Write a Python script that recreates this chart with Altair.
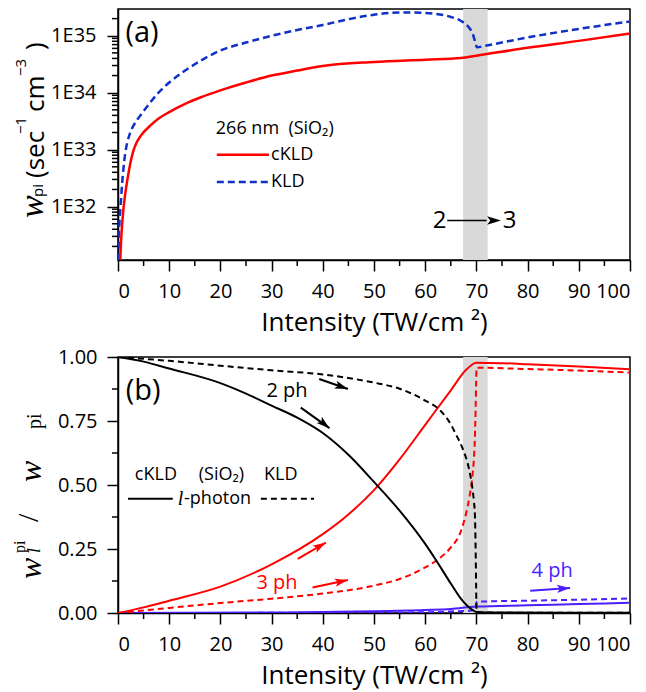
import altair as alt
import pandas as pd

# ------------------------------------------------------------------ data
x_major = [0, 10, 20, 30, 40, 50, 60, 70, 80, 90, 100]
x_minor = [5, 15, 25, 35, 45, 55, 65, 75, 85, 95]
top_y_major = [1e32, 1e33, 1e34, 1e35]
top_y_minor = [2e31, 3e31, 4e31, 5e31, 6e31, 7e31, 8e31, 9e31,
               2e32, 3e32, 4e32, 5e32, 6e32, 7e32, 8e32, 9e32,
               2e33, 3e33, 4e33, 5e33, 6e33, 7e33, 8e33, 9e33,
               2e34, 3e34, 4e34, 5e34, 6e34, 7e34, 8e34, 9e34,
               2e35]
bot_y_major = [0, 0.25, 0.5, 0.75, 1.0]
bot_y_minor = [0.125, 0.375, 0.625, 0.875]
top_domain = [1.155e31, 2.95e35]
band_x = [67.4]
band_x2 = [72.2]

# panel (a): total photo-ionization rate
a_ckld_x = [0.45, 0.55, 0.7, 1.0, 1.3, 1.6, 2.0, 2.5, 3.0, 3.5, 4.5, 6.4, 8, 10, 13, 16.2, 20, 25, 30,
            35, 40, 50, 60, 67, 70, 80, 90, 100]
a_ckld_y = [1.16e31, 2.0e31, 3.55e31, 7.94e31, 1.41e32, 2.19e32, 3.63e32, 6.31e32, 9.55e32, 1.26e33,
            1.78e33, 2.69e33, 3.55e33, 4.57e33, 6.31e33, 8.32e33, 1.1e34, 1.51e34, 2.0e34, 2.45e34,
            2.95e34, 3.47e34, 3.8e34, 4.07e34, 4.47e34, 6.17e34, 8.13e34, 1.1e35]
a_kld_x = [0.05, 0.15, 0.3, 0.5, 0.8, 1.1, 1.4, 1.8, 2.4, 3.2, 4.2, 5.2, 6.4, 7.7, 10, 12.5, 15, 17.5,
           20, 25, 30, 35, 40, 45, 50, 55, 60, 65, 67, 68.3, 69.3, 69.8, 70.1, 72, 80, 90, 100]
a_kld_y = [1.16e31, 2.51e31, 5.62e31, 1.0e32, 2.51e32, 5.01e32, 8.51e32, 1.32e33, 2.0e33, 2.82e33,
           3.8e33, 5.01e33, 6.92e33, 9.55e33, 1.51e34, 2.24e34, 3.16e34, 4.27e34, 5.5e34, 7.59e34,
           1.0e35, 1.26e35, 1.55e35, 1.95e35, 2.34e35, 2.57e35, 2.51e35, 2.14e35, 1.82e35, 1.48e35,
           1.07e35, 7.59e34, 6.31e34, 6.76e34, 9.33e34, 1.32e35, 1.78e35]

# panel (b): l-photon fractions
b2_ckld_x = [0, 5, 10, 20, 25, 30, 35, 40, 45, 50, 55, 60, 62, 65, 67, 69, 70, 72, 100]
b2_ckld_y = [1.0, 0.982, 0.955, 0.898, 0.857, 0.81, 0.763, 0.703, 0.618, 0.512, 0.40, 0.27, 0.21, 0.115,
             0.055, 0.015, 0.004, 0.002, 0.001]
b3_ckld_x = [0, 5, 10, 20, 30, 40, 45, 50, 55, 60, 65, 68, 70, 75, 80, 90, 100]
b3_ckld_y = [0, 0.022, 0.048, 0.103, 0.19, 0.308, 0.385, 0.48, 0.60, 0.735, 0.87, 0.95, 0.978, 0.976,
             0.972, 0.963, 0.952]
b4_ckld_x = [0, 30, 40, 50, 60, 65, 70, 80, 90, 100]
b4_ckld_y = [0, 0.002, 0.004, 0.007, 0.012, 0.016, 0.025, 0.03, 0.035, 0.04]
b2_kld_x = [0, 10, 20, 30, 40, 45, 50, 55, 60, 63, 65, 66, 67.5, 68.5, 69, 69.5, 69.7, 69.85, 69.95,
            70.02, 70.1, 80, 100]
b2_kld_y = [1.0, 0.985, 0.966, 0.948, 0.932, 0.918, 0.90, 0.876, 0.83, 0.79, 0.737, 0.698, 0.633, 0.568,
            0.516, 0.438, 0.387, 0.25, 0.10, 0.01, 0.002, 0.001, 0.001]
b3_kld_x = [0, 10, 20, 30, 40, 50, 55, 60, 63, 65, 67, 68, 68.7, 69.2, 69.5, 69.7, 69.85, 69.95, 70.02,
            80, 90, 100]
b3_kld_y = [0, 0.02, 0.039, 0.056, 0.076, 0.107, 0.133, 0.178, 0.217, 0.256, 0.321, 0.39, 0.46, 0.53,
            0.60, 0.68, 0.80, 0.90, 0.958, 0.953, 0.947, 0.939]
b4_kld_x = [0, 40, 60, 65, 69, 69.9, 70.05, 80, 90, 100]
b4_kld_y = [0, 0.001, 0.003, 0.006, 0.01, 0.015, 0.044, 0.048, 0.052, 0.057]

# annotation arrows of panel (b): start, tip, head angle
arr_x0 = [35.7, 39.3, 35.1, 38.0, 80.5]
arr_y0 = [0.802, 0.914, 0.211, 0.100, 0.087]
arr_x1 = [41.3, 44.9, 40.6, 44.9, 88.3]
arr_y1 = [0.722, 0.875, 0.275, 0.129, 0.098]
arr_angle = [129, 109, 60, 78, 86]
arr_color = ["black", "black", "#ff0000", "#ff0000", "#4b1fff"]

RED = "#ff0000"
BLUE = "#1030c8"
VIOLET = "#4b1fff"
SANS = "Open Sans"
SERIF = "Liberation Serif"
TOP_H = 251
BOT_H = 256

# ------------------------------------------------------------------ encodings
x_axis = alt.Axis(values=x_major, tickSize=11, labelPadding=10,
                  title="Intensity (TW/cm ²)", titlePadding=8)
X = alt.X("x:Q", scale=alt.Scale(domain=[0, 100], nice=False, zero=False), axis=x_axis)
X2 = alt.X2("x2:Q")

top_y_axis = alt.Axis(values=top_y_major, labelExpr="'1E' + round(log(datum.value)/LN10)",
                      tickSize=11, labelPadding=11, title=None)
YT = alt.Y("y:Q", scale=alt.Scale(type="log", domain=top_domain, nice=False), axis=top_y_axis)

bot_y_axis = alt.Axis(values=bot_y_major, format=".2f", tickSize=11, labelPadding=10, title=None)
YB = alt.Y("y:Q", scale=alt.Scale(domain=[0, 1], nice=False, zero=False), axis=bot_y_axis)


def line(xs, ys, Y, color, dash=None, width=2.5):
    kw = dict(color=color, strokeWidth=width, interpolate="monotone", clip=True)
    if dash:
        kw["strokeDash"] = dash
    return alt.Chart(pd.DataFrame({"x": xs, "y": ys})).mark_line(**kw).encode(x=X, y=Y)


def seg(x0, x1, y, Y, color, dash=None, width=2.5):
    kw = dict(color=color, strokeWidth=width)
    if dash:
        kw["strokeDash"] = dash
    return alt.Chart(pd.DataFrame({"x": [x0], "x2": [x1], "y": [y]})).mark_rule(**kw).encode(
        x=X, x2=X2, y=Y)


def txt(x, y, s, Y, size=18, color="black", font=SANS, align="center", style="normal"):
    return alt.Chart(pd.DataFrame({"x": [x], "y": [y], "t": [s]})).mark_text(
        font=font, fontSize=size, color=color, align=align, baseline="middle", fontStyle=style
    ).encode(x=X, y=Y, text="t:N")


def ptxt(px, py, s, size, font=SANS, style="normal"):
    return alt.Chart(pd.DataFrame({"t": [s]})).mark_text(
        font=font, fontSize=size, fontStyle=style, color="black", angle=270,
        align="left", baseline="alphabetic", x=px, y=py
    ).encode(text="t:N")


def x_minor_ticks(h):
    return alt.Chart(pd.DataFrame({"x": x_minor})).mark_rule(color="black", strokeWidth=1.5).encode(
        x=X, y=alt.value(h), y2=alt.value(h + 6))


def y_minor_ticks(vals, Y):
    return alt.Chart(pd.DataFrame({"y": vals})).mark_rule(color="black", strokeWidth=1.5).encode(
        y=Y, x=alt.value(-6), x2=alt.value(0))


def anchor():
    # fixes the left edge of the layout box
    return alt.Chart(pd.DataFrame({"t": [""]})).mark_rule(opacity=0, strokeWidth=1).encode(
        x=alt.value(-118), x2=alt.value(-117), y=alt.value(20))


ARROW = "M0,0 L0.42,1.35 L0,1.05 L-0.42,1.35 Z"

band_top = alt.Chart(pd.DataFrame({"x": band_x, "x2": band_x2})).mark_rect(color="#d9d9d9").encode(x=X, x2=X2)
band_bot = alt.Chart(pd.DataFrame({"x": band_x, "x2": band_x2})).mark_rect(color="#d9d9d9").encode(x=X, x2=X2)

# ------------------------------------------------------------------ panel (a)
top_layers = [
    band_top,
    line(a_kld_x, a_kld_y, YT, BLUE, dash=[7, 4]),
    line(a_ckld_x, a_ckld_y, YT, RED),
    x_minor_ticks(TOP_H),
    y_minor_ticks(top_y_minor, YT),
    txt(4.7, 1.12e35, "(a)", YT, size=29),
    txt(19.1, 2.3e33, "266 nm\u00a0\u00a0(SiO₂)", YT, size=18, align="left"),
    seg(19.3, 29.5, 8.1e32, YT, RED),
    txt(29.9, 8.1e32, "cKLD", YT, size=18, align="left"),
    seg(19.3, 29.5, 2.7e32, YT, BLUE, dash=[7, 4]),
    txt(29.9, 2.7e32, "KLD", YT, size=18, align="left"),
    txt(62.8, 5.7e31, "2", YT, size=24),
    txt(76.5, 5.7e31, "3", YT, size=24),
    seg(64.3, 72.0, 5.7e31, YT, "black", width=1.5),
    alt.Chart(pd.DataFrame({"x": [74.8], "y": [5.7e31]})).mark_point(
        shape=ARROW, size=420, filled=True, color="black", opacity=1, angle=90, strokeWidth=0
    ).encode(x=X, y=YT),
    # axis title pieces (pixel placed)
    ptxt(-75, 209, "w", 34, font=SERIF, style="italic"),
    ptxt(-75, 188, "pi", 15),
    ptxt(-74, 169, "(sec", 26),
    ptxt(-92, 125, "−1", 15),
    ptxt(-74, 103, "cm", 26),
    ptxt(-92, 67, "−3", 15),
    ptxt(-74, 41, ")", 26),
    anchor(),
]
top = alt.layer(*top_layers).properties(width=512, height=TOP_H)

# ------------------------------------------------------------------ panel (b)
arrows_df = pd.DataFrame({"x": arr_x0, "y": arr_y0, "x2": arr_x1, "y2": arr_y1,
                          "a": arr_angle, "c": arr_color})
bot_layers = [
    band_bot,
    line(b4_kld_x, b4_kld_y, YB, VIOLET, dash=[6, 4], width=2),
    line(b4_ckld_x, b4_ckld_y, YB, VIOLET, width=2),
    line(b3_kld_x, b3_kld_y, YB, RED, dash=[6, 4], width=2),
    line(b3_ckld_x, b3_ckld_y, YB, RED, width=2),
    line(b2_kld_x, b2_kld_y, YB, "black", dash=[6, 4], width=2),
    line(b2_ckld_x, b2_ckld_y, YB, "black", width=2),
    x_minor_ticks(BOT_H),
    y_minor_ticks(bot_y_minor, YB),
    alt.Chart(arrows_df).mark_rule(strokeWidth=2).encode(
        x=X, y=YB, x2=X2, y2="y2:Q", color=alt.Color("c:N", scale=None)),
    alt.Chart(arrows_df).mark_point(shape=ARROW, size=380, filled=True, opacity=1, strokeWidth=0).encode(
        x=alt.X("x2:Q"), y=alt.Y("y2:Q"), angle=alt.Angle("a:Q", scale=None),
        color=alt.Color("c:N", scale=None)),
    txt(4.9, 0.867, "(b)", YB, size=29),
    txt(33.0, 0.867, "2 ph", YB, size=20),
    txt(31.05, 0.116, "3 ph", YB, size=20, color=RED),
    txt(84.8, 0.165, "4 ph", YB, size=20, color=VIOLET),
    txt(7.4, 0.540, "cKLD", YB, size=18),
    txt(20.2, 0.540, "(SiO₂)", YB, size=18),
    txt(31.8, 0.540, "KLD", YB, size=18),
    seg(1.95, 10.7, 0.446, YB, "black", width=2),
    txt(12.2, 0.446, "l", YB, size=20, font=SERIF, style="italic"),
    txt(12.9, 0.446, "-photon", YB, size=18, align="left"),
    seg(27.9, 38.3, 0.446, YB, "black", dash=[6, 4], width=2),
    ptxt(-77, 222, "w", 32, font=SERIF, style="italic"),
    ptxt(-93, 196, "pi", 16, font=SERIF),
    ptxt(-78, 196, "l", 18, font=SERIF, style="italic"),
    ptxt(-80, 165, "/", 30, font=SERIF),
    ptxt(-77, 125, "w", 32, font=SERIF, style="italic"),
    ptxt(-77, 72, "pi", 20, font=SERIF),
    anchor(),
]
bottom = alt.layer(*bot_layers).properties(width=512, height=BOT_H)

chart = alt.vconcat(top, bottom, spacing=97, bounds="flush").properties(
    padding={"left": -9, "top": 0, "right": 2, "bottom": 2}
).configure_view(stroke="black", strokeWidth=1.5).configure_axis(
    domainColor="black", domainWidth=1.5, tickColor="black", tickWidth=1.5,
    labelFont=SANS, labelFontSize=20, labelColor="black",
    titleFont=SANS, titleFontSize=26, titleColor="black", titleFontWeight="normal", grid=False
)

chart.save("out.html", embed_options={"renderer": "svg", "actions": False})
